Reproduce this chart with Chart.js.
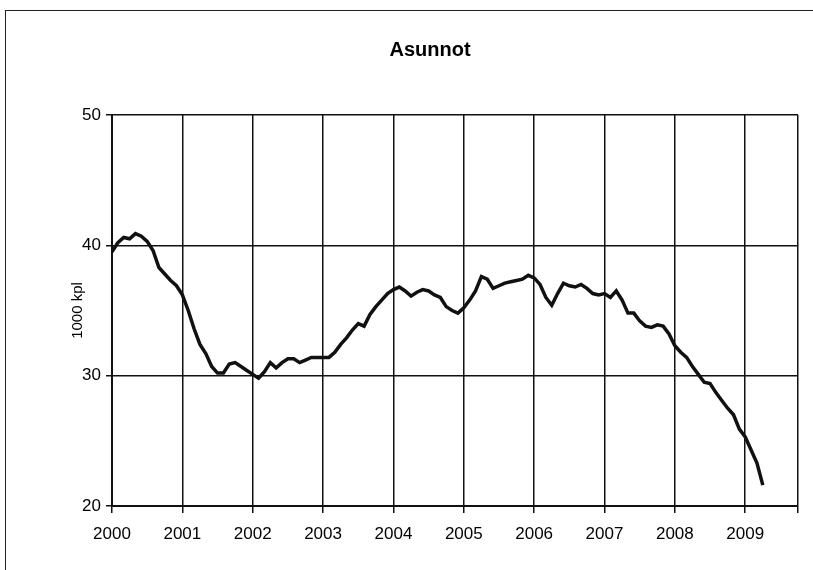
<!DOCTYPE html>
<html>
<head>
<meta charset="utf-8">
<script src="https://cdn.jsdelivr.net/npm/chart.js@4.4.1/dist/chart.umd.min.js"></script>
<style>
  html, body { margin: 0; padding: 0; background: #fff; }
  #wrap { position: relative; width: 813px; height: 570px; overflow: hidden; }
  #frame { position: absolute; left: 5px; top: 10px; width: 900px; height: 700px;
           border-left: 1.5px solid #222; border-top: 1.5px solid #222; pointer-events: none; }
  canvas { position: absolute; left: 0; top: 0; }
</style>
</head>
<body>
<div id="wrap">
  <canvas id="c" width="813" height="570"></canvas>
  <div id="frame"></div>
</div>
<script>
// Monthly series, Jan 2000 .. Apr 2009 (1000 units)
const chartTitle = 'Asunnot';
const yearLabels = ['2000','2001','2002','2003','2004','2005','2006','2007','2008','2009'];
const yTicks = [20, 30, 40, 50];
const asunnot = [
  39.5, 40.2, 40.6, 40.5, 40.9, 40.7, 40.3, 39.6, 38.3, 37.8, 37.3, 36.9,
  36.2, 35.0, 33.6, 32.4, 31.7, 30.7, 30.2, 30.2, 30.9, 31.0, 30.7, 30.4,
  30.1, 29.8, 30.3, 31.0, 30.6, 31.0, 31.3, 31.3, 31.0, 31.2, 31.4, 31.4,
  31.4, 31.4, 31.8, 32.4, 32.9, 33.5, 34.0, 33.8, 34.7, 35.3, 35.8, 36.3,
  36.6, 36.8, 36.5, 36.1, 36.4, 36.6, 36.5, 36.2, 36.0, 35.3, 35.0, 34.8,
  35.2, 35.8, 36.5, 37.6, 37.4, 36.7, 36.9, 37.1, 37.2, 37.3, 37.4, 37.7,
  37.5, 37.0, 36.0, 35.4, 36.3, 37.1, 36.9, 36.8, 37.0, 36.7, 36.3, 36.2,
  36.3, 36.0, 36.5, 35.8, 34.8, 34.8, 34.2, 33.8, 33.7, 33.9, 33.8, 33.2,
  32.3, 31.8, 31.4, 30.7, 30.1, 29.5, 29.4, 28.7, 28.1, 27.5, 27.0, 25.9,
  25.3, 24.3, 23.3, 21.6
];
const axisEndMonth = 117;

const points = asunnot.map((v, i) => ({ x: i, y: v }));
const FONT = "'Liberation Sans', Arial, sans-serif";

const titlePlugin = {
  id: 'offsetTitle',
  afterDraw(chart) {
    const ctx = chart.ctx;
    ctx.save();
    ctx.fillStyle = '#000';
    ctx.font = "bold 20px " + FONT;
    ctx.textAlign = 'center';
    ctx.textBaseline = 'middle';
    ctx.fillText(chartTitle, 430, 50);
    ctx.restore();
  }
};

new Chart(document.getElementById('c'), {
  type: 'line',
  data: {
    datasets: [{
      data: points,
      borderColor: '#111',
      borderWidth: 3.5,
      pointRadius: 0,
      tension: 0,
      fill: false
    }]
  },
  options: {
    responsive: false,
    animation: false,
    devicePixelRatio: 1,
    layout: { padding: { left: 0, right: 15, top: 115, bottom: 0 } },
    plugins: {
      legend: { display: false },
      tooltip: { enabled: false },
      title: { display: false }
    },
    scales: {
      x: {
        type: 'linear',
        min: 0,
        max: axisEndMonth,
        afterBuildTicks: (s) => {
          const t = yearLabels.map((_, i) => ({ value: i * 12 }));
          t.push({ value: axisEndMonth });
          s.ticks = t;
        },
        afterFit: (s) => { s.height = 64; },
        grid: { color: '#111', lineWidth: 1.5, tickLength: 7, drawTicks: true },
        border: { color: '#111', width: 2 },
        ticks: {
          color: '#000',
          font: { family: FONT, size: 17 },
          padding: 11,
          maxRotation: 0,
          autoSkip: false,
          callback: (v) => {
            const idx = v / 12;
            return Number.isInteger(idx) && idx < yearLabels.length ? yearLabels[idx] : '';
          }
        }
      },
      y: {
        min: 20,
        max: 50,
        afterBuildTicks: (s) => { s.ticks = yTicks.map(v => ({ value: v })); },
        afterFit: (s) => { s.width = 112; },
        grid: { color: '#111', lineWidth: 1.5, tickLength: 6 },
        border: { color: '#111', width: 2 },
        ticks: {
          color: '#000',
          font: { family: FONT, size: 17 },
          padding: 5
        },
        title: {
          display: true,
          text: '1000 kpl',
          color: '#000',
          font: { family: FONT, size: 15, lineHeight: 1.2 },
          padding: { top: 69, bottom: 0 }
        }
      }
    }
  },
  plugins: [titlePlugin]
});
</script>
</body>
</html>
